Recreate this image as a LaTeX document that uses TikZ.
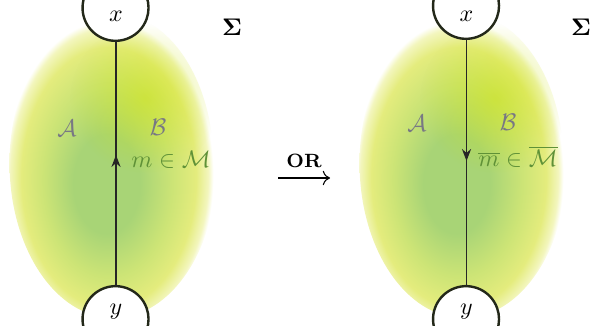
\documentclass[tikz,border=0pt]{standalone}
\usepackage{amsmath,amssymb}
\usetikzlibrary{arrows.meta,fadings}
\definecolor{labgray}{RGB}{120,120,132}
\definecolor{mgreen}{RGB}{95,145,55}
\definecolor{bgreen}{RGB}{168,212,118}
\definecolor{bmid}{RGB}{204,228,118}
\definecolor{byel}{RGB}{228,236,125}
\definecolor{bedge}{RGB}{243,246,190}
\definecolor{capcol}{RGB}{35,40,25}
\pgfdeclareradialshading{blobshade}{\pgfpoint{-2bp}{-4bp}}{color(0bp)=(bgreen); color(8bp)=(bgreen); color(15.5bp)=(bmid); color(21bp)=(byel); color(23.8bp)=(bedge); color(25bp)=(white); color(50bp)=(white)}
\tikzfading[name=spotfade, inner color=transparent!0, outer color=transparent!100]
\begin{document}
\begin{tikzpicture}[x=0.4165pt,y=0.4165pt,
  capnode/.style={circle, fill=white, minimum size=27.5pt, inner sep=0pt},
  capline/.style={draw=capcol, line width=1pt},
  strand/.style={line width=0.5pt, draw=black!85},
  tip/.style={-{Stealth[length=5pt,width=3.8pt]}},
  lab/.style={text=labgray, inner sep=0pt},
  mlab/.style={text=mgreen, inner sep=0pt, anchor=base west},
  yspot/.style={fill=yellow!80!green, fill opacity=0.55, path fading=spotfade},
]
\useasboundingbox (0,0) rectangle (593,326);
\clip (0,0) rectangle (593,326);

% left blob
\shade[shading=blobshade] (113.5,163) ellipse[x radius=104, y radius=155];
\begin{scope}
  \clip (113.5,163) ellipse[x radius=100, y radius=150];
  \fill[yspot] (145,228) ellipse[x radius=75, y radius=75];
\end{scope}
% right blob
\shade[shading=blobshade] (463.5,163) ellipse[x radius=104, y radius=155];
\begin{scope}
  \clip (463.5,163) ellipse[x radius=100, y radius=150];
  \fill[yspot] (495,228) ellipse[x radius=75, y radius=75];
\end{scope}

% caps
\node[capnode] (tl) at (116,318) {};
\node[capnode] (bl) at (116,7) {};
\node[capnode] (tr) at (466.5,320) {};
\node[capnode] (br) at (466.5,7) {};
\draw[capline] (tl.160) arc[start angle=160, end angle=380, radius=33];
\draw[capline] (bl.200) arc[start angle=200, end angle=-20, radius=33];
\draw[capline] (tr.160) arc[start angle=160, end angle=380, radius=33];
\draw[capline] (br.200) arc[start angle=200, end angle=-20, radius=33];

% strands
\coordinate (ml) at (116,171);
\coordinate (mr) at (466.5,165);
\draw[strand] (bl.north) -- (tl.south);
\draw[strand,tip] (bl.north) -- (ml);
\draw[strand] (br.north) -- (tr.south);
\draw[strand,tip] (tr.south) -- (mr);

% labels
\node (xl) at (116,310) {$x$};
\node (yl) at (116,14) {$y$};
\node (xr) at (466.5,310) {$x$};
\node (yr) at (466.5,14) {$y$};

\node[lab] (al) at (67,198) {$\mathcal{A}$};
\node[lab] (bbl) at (158,199) {$\mathcal{B}$};
\node[mlab] (mml) at (131,158) {$m\in\mathcal{M}$};

\node[lab] (ar) at (417,203) {$\mathcal{A}$};
\node[lab] (bbr) at (508,204) {$\mathcal{B}$};
\node[mlab] (mmr) at (478,159) {$\overline{m}\in\overline{\mathcal{M}}$};

\node (sl) at (232,299) {$\mathbf{\Sigma}$};
\node (sr) at (581,299) {$\mathbf{\Sigma}$};

% OR arrow
\coordinate (ora) at (278,148);
\coordinate (orb) at (330,148);
\draw[line width=0.45pt, -{To[length=3pt,width=6pt]}] (ora) -- (orb);
\node[font=\footnotesize\bfseries, inner sep=0pt] (ort) at (304,165) {OR};
\end{tikzpicture}
\end{document}
